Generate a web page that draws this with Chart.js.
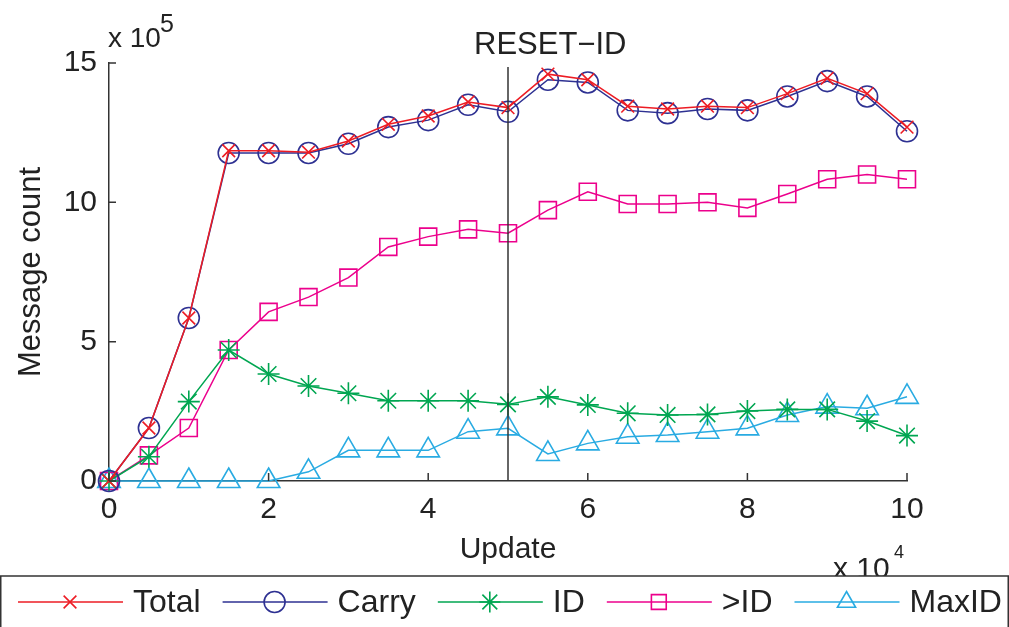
<!DOCTYPE html>
<html>
<head>
<meta charset="utf-8">
<script src="https://cdn.jsdelivr.net/npm/chart.js@4/dist/chart.umd.min.js"></script>
<style>
  body { margin: 0; background: #fff; }
  #wrap { width: 1009px; height: 627px; }
</style>
</head>
<body>
<div id="wrap"><canvas id="myChart" width="1009" height="627"></canvas></div>
<script>
// x values in units of 10^4 updates, y values in units of 10^5 messages
var updates = [0, 0.5, 1, 1.5, 2, 2.5, 3, 3.5, 4, 4.5, 5, 5.5, 6, 6.5, 7, 7.5, 8, 8.5, 9, 9.5, 10];
var total = [0, 1.9, 5.85, 11.85, 11.85, 11.8, 12.2, 12.8, 13.1, 13.6, 13.4, 14.6, 14.4, 13.45, 13.35, 13.45, 13.4, 13.9, 14.45, 13.9, 12.7];
var carry = [0, 1.9, 5.85, 11.77, 11.77, 11.77, 12.1, 12.7, 12.95, 13.5, 13.25, 14.4, 14.3, 13.3, 13.2, 13.35, 13.3, 13.8, 14.35, 13.8, 12.55];
var idCount = [0, 0.87, 2.85, 4.7, 3.84, 3.41, 3.15, 2.88, 2.88, 2.88, 2.75, 3.02, 2.73, 2.43, 2.37, 2.39, 2.51, 2.57, 2.57, 2.15, 1.63];
var aboveId = [0, 0.92, 1.9, 4.7, 6.07, 6.6, 7.3, 8.4, 8.77, 9.03, 8.89, 9.72, 10.38, 9.94, 9.94, 10.0, 9.8, 10.3, 10.83, 11.0, 10.83];
var maxId = [0, 0, 0, 0, 0, 0.33, 1.1, 1.1, 1.1, 1.77, 1.89, 0.97, 1.35, 1.59, 1.65, 1.77, 1.89, 2.37, 2.67, 2.61, 3.02];

var seriesNames = ['Total', 'Carry', 'ID', '>ID', 'MaxID'];
var resetAt = 5;
var resetLabel = 'RESET\u2212ID';

var FONT = 'Liberation Sans, Arial, sans-serif';
var TEXT = '#222';

function pts(arr) {
    return updates.map(function (u, i) { return { x: u, y: arr[i] }; });
}

function makeSet(label, arr, color, style, radius) {
    return {
        label: label,
        data: pts(arr),
        borderColor: color,
        backgroundColor: color,
        borderWidth: 1.5,
        pointStyle: style,
        pointRadius: radius,
        pointBorderColor: color,
        pointBackgroundColor: 'rgba(0,0,0,0)',
        pointBorderWidth: 1.6,
        tension: 0,
        clip: false
    };
}

var datasets = [
    makeSet(seriesNames[0], total, '#ed1c24', 'crossRot', 9),
    makeSet(seriesNames[1], carry, '#2e3192', 'circle', 10.5),
    makeSet(seriesNames[2], idCount, '#00a651', 'star', 11),
    makeSet(seriesNames[3], aboveId, '#ec008c', 'rect', 12),
    makeSet(seriesNames[4], maxId, '#29abe2', 'triangle', 13)
];

// extras: inward ticks, reset marker, exponent labels, legend box
var extras = {
    id: 'extras',
    afterDraw: function (chart) {
        var ctx = chart.ctx;
        var xs = chart.scales.x, ys = chart.scales.y;
        var area = chart.chartArea;
        ctx.save();

        // inward ticks
        ctx.strokeStyle = '#333';
        ctx.lineWidth = 1.5;
        ctx.beginPath();
        xs.ticks.forEach(function (t) {
            var px = xs.getPixelForValue(t.value);
            ctx.moveTo(px, area.bottom);
            ctx.lineTo(px, area.bottom - 8);
        });
        ys.ticks.forEach(function (t) {
            var py = ys.getPixelForValue(t.value);
            ctx.moveTo(area.left, py);
            ctx.lineTo(area.left + 7, py);
        });
        ctx.stroke();

        // reset line
        var rx = xs.getPixelForValue(resetAt);
        ctx.beginPath();
        ctx.moveTo(rx, area.top + 4);
        ctx.lineTo(rx, area.bottom);
        ctx.stroke();

        ctx.fillStyle = TEXT;
        ctx.textBaseline = 'alphabetic';
        ctx.textAlign = 'left';
        ctx.font = '31px ' + FONT;
        ctx.fillText(resetLabel, rx - 34, 54);

        // exponent labels
        ctx.font = '28px ' + FONT;
        ctx.fillText('x 10', area.left - 1, 47);
        ctx.font = '25px ' + FONT;
        ctx.fillText('5', area.left + 51, 32);

        ctx.font = '30px ' + FONT;
        ctx.fillText('x 10', 833, 578);
        ctx.font = '18px ' + FONT;
        ctx.fillText('4', 894, 558);

        // legend box (covers the bottom of the exponent label)
        ctx.fillStyle = '#fff';
        ctx.fillRect(0, 576, 1009, 51);
        ctx.strokeStyle = '#333';
        ctx.lineWidth = 1.5;
        ctx.strokeRect(0.75, 576, 1007.5, 60);

        var ly = 602;
        var cx = 18;
        ctx.font = '32px ' + FONT;
        ctx.textBaseline = 'middle';
        chart.data.datasets.forEach(function (ds) {
            ctx.strokeStyle = ds.borderColor;
            ctx.lineWidth = 1.5;
            ctx.beginPath();
            ctx.moveTo(cx, ly);
            ctx.lineTo(cx + 105, ly);
            ctx.stroke();
            ctx.fillStyle = 'rgba(0,0,0,0)';
            ctx.lineWidth = 1.6;
            Chart.helpers.drawPoint(ctx, {
                pointStyle: ds.pointStyle,
                rotation: 0,
                radius: Math.min(ds.pointRadius, 10.5),
                borderWidth: 1.6
            }, cx + 52, ly);
            ctx.fillStyle = TEXT;
            ctx.fillText(ds.label, cx + 115, ly + 1);
            cx += 115 + ctx.measureText(ds.label).width + 22;
        });

        ctx.restore();
    }
};

var ctx = document.getElementById('myChart').getContext('2d');
var chart = new Chart(ctx, {
    type: 'line',
    data: { datasets: datasets },
    options: {
        responsive: false,
        animation: false,
        devicePixelRatio: 1,
        layout: {
            padding: { left: 0, right: 102, top: 63, bottom: 51 }
        },
        plugins: {
            legend: { display: false },
            tooltip: { enabled: false }
        },
        scales: {
            x: {
                type: 'linear',
                min: 0,
                max: 10,
                afterFit: function (scale) { scale.height = 95; },
                ticks: {
                    stepSize: 2,
                    padding: 11,
                    color: TEXT,
                    font: { family: FONT, size: 30 }
                },
                grid: { display: true, drawOnChartArea: false, drawTicks: false },
                border: { display: true, color: '#333', width: 1.5 },
                title: {
                    display: true,
                    text: 'Update',
                    color: TEXT,
                    font: { family: FONT, size: 30 },
                    padding: { top: 0, bottom: 8 }
                }
            },
            y: {
                min: 0,
                max: 15,
                afterFit: function (scale) { scale.width = 109; },
                ticks: {
                    stepSize: 5,
                    padding: 12,
                    color: TEXT,
                    font: { family: FONT, size: 30 }
                },
                grid: { display: true, drawOnChartArea: false, drawTicks: false },
                border: { display: true, color: '#333', width: 1.5 },
                title: {
                    display: true,
                    text: 'Message count',
                    color: TEXT,
                    font: { family: FONT, size: 31 },
                    padding: { top: 13, bottom: 0 }
                }
            }
        }
    },
    plugins: [extras]
});
</script>
</body>
</html>
